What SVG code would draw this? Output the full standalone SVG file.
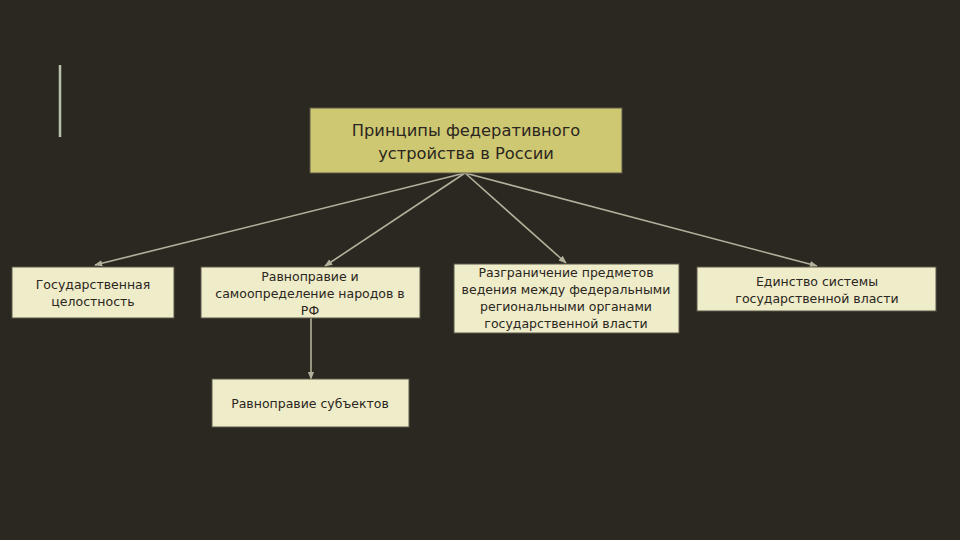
<svg xmlns="http://www.w3.org/2000/svg" width="960" height="540" viewBox="0 0 960 540">
<defs>
<style>
.bg{fill:#2b2822}
.box{fill:#efecc9;stroke:#5a5848;stroke-width:1}
.top{fill:#cfc873;stroke:#5a5848;stroke-width:1}
text{font-family:"DejaVu Sans","Liberation Sans",sans-serif;fill:#2a2620;text-anchor:middle}
.t{font-size:12.5px}
.tt{font-size:16.3px}
.c{stroke:#b3b19b;stroke-width:1.6;fill:none;marker-end:url(#ah)}
</style>
<marker id="ah" viewBox="0 0 10 10" refX="9" refY="5" markerWidth="5" markerHeight="5" orient="auto">
<path d="M0,1 L10,5 L0,9 Z" fill="#b3b19b"/>
</marker>
</defs>
<rect class="bg" x="0" y="0" width="960" height="540"/>
<line x1="60" y1="65" x2="60" y2="137" stroke="#b8c0ae" stroke-width="2.5"/>
<g id="connectors">
<line class="c" x1="465" y1="173" x2="95" y2="265"/>
<line class="c" x1="465" y1="173" x2="325" y2="266"/>
<line class="c" x1="465" y1="173" x2="566" y2="263"/>
<line class="c" x1="465" y1="173" x2="817" y2="266"/>
<line class="c" x1="311" y1="318" x2="311" y2="379"/>
</g>
<g id="n0">
<rect class="top" x="310" y="108" width="312" height="65"/>
<text class="tt" x="466" y="136">Принципы федеративного</text>
<text class="tt" x="466" y="159">устройства в России</text>
</g>
<g id="n1">
<rect class="box" x="12" y="267" width="162" height="51"/>
<text class="t" x="93" y="289">Государственная</text>
<text class="t" x="93" y="306">целостность</text>
</g>
<g id="n2">
<rect class="box" x="201" y="267" width="219" height="51"/>
<text class="t" x="310" y="281">Равноправие и</text>
<text class="t" x="310" y="298">самоопределение народов в</text>
<text class="t" x="310" y="315">РФ</text>
</g>
<g id="n3">
<rect class="box" x="454" y="264" width="225" height="69"/>
<text class="t" x="566" y="277">Разграничение предметов</text>
<text class="t" x="566" y="294">ведения между федеральными</text>
<text class="t" x="566" y="311">региональными органами</text>
<text class="t" x="566" y="328">государственной власти</text>
</g>
<g id="n4">
<rect class="box" x="697" y="267" width="239" height="44"/>
<text class="t" x="817" y="286">Единство системы</text>
<text class="t" x="817" y="303">государственной власти</text>
</g>
<g id="n5">
<rect class="box" x="212" y="379" width="197" height="48"/>
<text class="t" x="310" y="408">Равноправие субъектов</text>
</g>
</svg>
